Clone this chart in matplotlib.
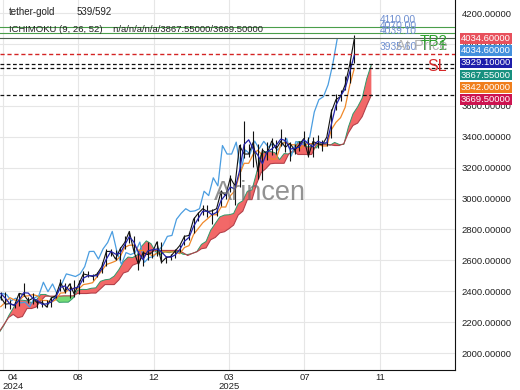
import matplotlib
matplotlib.use("Agg")
import matplotlib.pyplot as plt
import matplotlib.transforms as mtransforms
import numpy as np
import pandas as pd

plt.rcParams['font.family'] = ['Liberation Sans', 'DejaVu Sans']

# ---------------- data (weekly samples) ----------------
price_dates = pd.date_range('2024-04-17', '2025-10-08', freq='7D')
cloud_dates = pd.date_range('2024-04-15', '2025-11-03', freq='7D')

close = [2361, 2316, 2320, 2309, 2386, 2378, 2338, 2355, 2324, 2329,
         2298, 2356, 2371, 2458, 2397, 2447, 2382, 2447, 2512, 2504,
         2495, 2512, 2559, 2657, 2658, 2608, 2674, 2715, 2787, 2658,
         2573, 2650, 2637, 2650, 2718, 2587, 2617, 2625, 2661, 2696,
         2755, 2761, 2866, 2904, 2934, 2916, 2920, 2934, 3047, 3019,
         3134, 3082, 3343, 3288, 3288, 3365, 3176, 3314, 3288, 3372,
         3322, 3370, 3332, 3357, 3313, 3347, 3388, 3275, 3369, 3356,
         3347, 3397, 3560, 3640, 3660, 3736, 3866, 4034.6]
high = [2395, 2395, 2340, 2330, 2390, 2450, 2365, 2390, 2340, 2340,
        2340, 2365, 2395, 2480, 2450, 2450, 2475, 2470, 2530, 2530,
        2510, 2525, 2590, 2670, 2675, 2665, 2685, 2760, 2790, 2760,
        2660, 2660, 2720, 2665, 2725, 2720, 2630, 2640, 2670, 2700,
        2765, 2775, 2880, 2910, 2955, 2955, 2930, 2940, 3055, 3040,
        3150, 3100, 3355, 3500, 3350, 3435, 3350, 3330, 3365, 3390,
        3380, 3450, 3395, 3365, 3350, 3375, 3440, 3400, 3400, 3410,
        3380, 3400, 3580, 3675, 3705, 3790, 3895, 4060]
low = [2340, 2292, 2285, 2290, 2305, 2370, 2325, 2315, 2290, 2300,
       2295, 2300, 2355, 2400, 2390, 2355, 2365, 2380, 2460, 2490,
       2475, 2490, 2515, 2560, 2630, 2605, 2605, 2670, 2715, 2645,
       2537, 2565, 2605, 2615, 2630, 2585, 2585, 2600, 2615, 2655,
       2700, 2730, 2780, 2855, 2895, 2880, 2835, 2885, 2950, 2995,
       3045, 2955, 3075, 3260, 3270, 3205, 3125, 3120, 3250, 3280,
       3290, 3340, 3300, 3245, 3285, 3310, 3340, 3270, 3270, 3330,
       3310, 3340, 3390, 3570, 3630, 3700, 3745, 3880]
tenkan = [2385, 2355, 2318, 2308, 2343, 2390, 2388, 2353, 2340, 2315,
          2318, 2330, 2363, 2425, 2434, 2403, 2420, 2428, 2485, 2500,
          2500, 2500, 2545, 2608, 2658, 2640, 2645, 2700, 2753, 2718,
          2648, 2604, 2660, 2668, 2673, 2655, 2623, 2620, 2635, 2670,
          2723, 2748, 2820, 2870, 2918, 2918, 2895, 2910, 2988, 3026,
          3075, 3061, 3178, 3350, 3380, 3320, 3280, 3225, 3303, 3320,
          3345, 3385, 3375, 3320, 3325, 3333, 3380, 3355, 3335, 3370,
          3360, 3360, 3480, 3603, 3663, 3710, 3818, 3929.1]
kijun = [2300, 2328, 2358, 2343, 2340, 2368, 2370, 2378, 2370, 2340,
         2340, 2328, 2345, 2388, 2390, 2418, 2418, 2415, 2443, 2448,
         2455, 2495, 2533, 2573, 2583, 2595, 2623, 2683, 2698, 2698,
         2664, 2664, 2649, 2629, 2645, 2655, 2655, 2655, 2653, 2643,
         2683, 2695, 2768, 2805, 2843, 2868, 2895, 2895, 2945, 2945,
         3018, 3050, 3155, 3228, 3228, 3288, 3313, 3278, 3278, 3255,
         3255, 3350, 3365, 3348, 3348, 3320, 3343, 3355, 3355, 3355,
         3340, 3340, 3445, 3493, 3523, 3590, 3733, 3842]
span_a = [2135, 2180, 2240, 2290,
          2343, 2342, 2338, 2326, 2342, 2379, 2379, 2366, 2355, 2328,
          2329, 2329, 2354, 2407, 2412, 2411, 2419, 2422, 2464, 2474,
          2478, 2498, 2539, 2591, 2621, 2618, 2634, 2692, 2726, 2708,
          2656, 2634, 2655, 2649, 2659, 2655, 2639, 2638, 2644, 2657,
          2703, 2722, 2794, 2838, 2881, 2893, 2895, 2903, 2967, 2986,
          3047, 3056, 3167, 3289, 3304, 3304, 3297, 3252, 3291, 3288,
          3300, 3368, 3370, 3334, 3337, 3327, 3362, 3355, 3345, 3363,
          3350, 3350, 3463, 3548, 3593, 3650, 3776, 3867.55]
span_b = [2140, 2185, 2230, 2250,
          2228, 2236, 2288, 2288, 2298, 2338, 2368, 2368, 2368, 2368,
          2370, 2370, 2370, 2385, 2385, 2385, 2388, 2388, 2415, 2443,
          2443, 2443, 2473, 2518, 2528, 2568, 2580, 2618, 2640, 2653,
          2664, 2664, 2664, 2664, 2664, 2664, 2649, 2631, 2645, 2655,
          2675, 2680, 2733, 2748, 2778, 2785, 2805, 2828, 2893, 2918,
          2993, 2993, 3095, 3168, 3193, 3225, 3228, 3228, 3228, 3288,
          3310, 3285, 3285, 3285, 3285, 3348, 3348, 3348, 3348, 3343,
          3343, 3355, 3425, 3473, 3488, 3530, 3603, 3669.5]

tick_dates = pd.to_datetime(['2024-04-20', '2024-08-13', '2024-12-06',
                             '2025-03-31', '2025-07-24', '2025-11-16'])
tick_labels = ['04\n2024', '08', '12', '03\n2025', '07', '11']

# trade levels
tp2, tp1, at_price, entry = 4110.0, 4070.0, 4039.1, 3935.6
dashed_levels = [3867.55, 3842.0, 3669.5]

last_values = ['4034.60000', '4034.60000', '3929.10000',
               '3867.55000', '3842.00000', '3669.50000']
last_colors = ['#e8505c', '#4390dd', '#1e1eab', '#17907f', '#f07e1c', '#cd1350']

# ---------------- figure ----------------
fig = plt.figure(figsize=(5.2, 3.9), dpi=100)
ax = fig.add_axes([0, 20 / 390, 455 / 520, 370 / 390])

a = np.array(span_a)
b = np.array(span_b)
ax.fill_between(cloud_dates, a, b, where=a >= b, interpolate=True,
                color='#f15757', alpha=0.9, lw=0, zorder=2)
ax.fill_between(cloud_dates, a, b, where=a < b, interpolate=True,
                color='#66d866', alpha=0.9, lw=0, zorder=2)
ax.plot(cloud_dates, span_a, color='#2f9a6a', lw=0.7, zorder=3)
ax.plot(cloud_dates, span_b, color='#b3404a', lw=0.8, zorder=3)

chikou_dates = price_dates - pd.Timedelta(days=26)
ax.plot(chikou_dates, close, color='#4a9de0', lw=0.9, zorder=4)
ax.plot(price_dates, kijun, color='#f0892a', lw=0.9, zorder=4)
ax.vlines(price_dates, low, high, color='#111111', lw=0.8, zorder=5)
ax.plot(price_dates, close, color='#111111', lw=0.8, zorder=5)
ax.plot(price_dates, tenkan, color='#2222aa', lw=0.9, zorder=6)

# levels
ax.axhline(tp2, color='#4a9e4a', lw=0.8, zorder=7)
ax.axhline(tp1, color='#4a9e4a', lw=0.8, zorder=7)
ax.axhline(at_price, color='#4f5f4f', lw=0.8, zorder=7)
ax.axhline(entry, color='#d42424', lw=1.0, ls=(0, (3, 2)), zorder=7)
for lv in dashed_levels:
    ax.axhline(lv, color='#111111', lw=0.9, ls=(0, (3, 2)), zorder=7)

trans = mtransforms.blended_transform_factory(ax.transAxes, ax.transData)
for lv, txt in [(tp2, '4110.00'), (tp1, '4070.00'), (at_price, '4039.10'), (entry, '3935.60')]:
    ax.text(0.835, lv + 12, txt, transform=trans, color='#6f8fd0',
            fontsize=7.4, va='bottom', ha='left', zorder=8)
ax.text(0.983, tp1 - 6, 'TP2', transform=trans, color='#2ca02c', fontsize=11,
        ha='right', va='top', zorder=9)
ax.text(0.983, at_price - 6, 'TP1', transform=trans, color='#2ca02c', fontsize=11,
        ha='right', va='top', zorder=9)
ax.text(0.983, entry + 4, 'At Price', transform=trans, color='#a0a0a0', fontsize=10.5,
        ha='right', va='bottom', alpha=0.8, zorder=9)
ax.text(0.983, dashed_levels[0] - 14, 'SL', transform=trans, color='#d62728',
        fontsize=11.5, ha='right', va='center', zorder=9)

ax.text(0.571, 0.478, 'Arincen', transform=ax.transAxes, fontsize=19.5,
        color='#6e6e6e', alpha=0.75, ha='center', va='center', zorder=10)

# axes styling
ax.set_xlim(pd.Timestamp('2024-04-15 21:00'), pd.Timestamp('2026-03-10 12:00'))
ax.set_ylim(1890, 4285)
ax.set_yticks(np.arange(2000, 4201, 200))
ax.yaxis.tick_right()
ax.yaxis.set_major_formatter(plt.FuncFormatter(lambda v, p: '%.5f' % v))
ax.set_xticks(tick_dates)
ax.set_xticklabels(tick_labels)
lab0 = ax.get_xticklabels()[0]
lab0.set_ha('left')
lab0.set_multialignment('center')
ax.tick_params(axis='y', length=0, pad=5, labelsize=6.8, labelcolor='#222222')
ax.tick_params(axis='x', length=0, pad=2.5, labelsize=6.8, labelcolor='#222222')
for lab in ax.get_xticklabels():
    lab.set_linespacing(0.95)
ax.grid(True, color='#e6e6e6', lw=0.8, zorder=0)
ax.set_axisbelow(True)
for s in ['top', 'left']:
    ax.spines[s].set_visible(False)
ax.spines['right'].set_color('#111111')
ax.spines['bottom'].set_color('#111111')

# header
fig.text(9 / 520, 1 - 12 / 390, 'tether-gold', fontsize=7, color='#222222', va='center')
fig.text(77 / 520, 1 - 12 / 390, '539/592', fontsize=7, color='#222222', va='center')
fig.text(9 / 520, 1 - 29 / 390, 'ICHIMOKU (9, 26, 52)    n/a/n/a/n/a/3867.55000/3669.50000',
         fontsize=6.8, color='#222222', va='center')

# last-value boxes on the price scale
for i, (txt, col) in enumerate(zip(last_values, last_colors)):
    fig.text(461 / 520, 1 - (38.5 + 12.2 * i) / 390, txt, fontsize=6.8, color='white',
             va='center', ha='left', zorder=20,
             bbox=dict(boxstyle='square,pad=0.08', fc=col, ec='none'))

fig.savefig('out.png', dpi=100)
